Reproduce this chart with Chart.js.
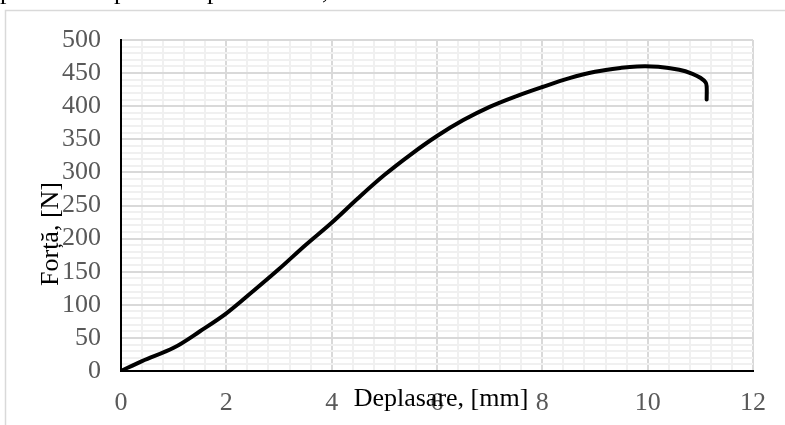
<!DOCTYPE html>
<html><head><meta charset="utf-8">
<script src="https://cdn.jsdelivr.net/npm/chart.js@4/dist/chart.umd.min.js"></script>
<style>html,body{margin:0;padding:0;background:#fff;overflow:hidden}</style>
</head><body>
<canvas id="c" width="785" height="425"></canvas>
<script>
// ---- data ----
const displacement = [0, 0.4, 1.0, 1.5, 2.0, 2.5, 3.0, 3.5, 4.0, 4.5, 5.0, 5.5, 6.0, 6.5, 7.0, 7.5, 8.0, 8.5, 9.0, 9.5, 9.8, 10.2, 10.6, 10.85, 11.0, 11.1, 11.12, 11.12];
const force        = [0, 15, 35, 60, 87, 120, 154, 190, 224, 261, 296, 327, 355, 379, 399, 415, 429, 442, 452, 458, 460, 459.5, 455, 449, 443, 436, 430, 410];
const xTickLabels = [0, 2, 4, 6, 8, 10, 12];
const yTickLabels = [0, 50, 100, 150, 200, 250, 300, 350, 400, 450, 500];
const xMinorStep = 0.4;
const yMinorStep = 10;
const xTitle = 'Deplasare, [mm]';
const yTitle = 'Forță, [N]';
const topTextFragments = ['p', 'p', 'p', ','];

const SERIF = '"Liberation Serif", "Times New Roman", serif';
const near = (a, b) => Math.abs(a - b) < 1e-6;
const isMajorX = v => xTickLabels.some(t => near(t, v));
const isMajorY = v => yTickLabels.some(t => near(t, v));

function minorTicks(min, max, step) {
  const t = [];
  const n = Math.round((max - min) / step);
  for (let i = 0; i <= n; i++) t.push({ value: Math.round((min + i * step) * 1e6) / 1e6 });
  return t;
}

const decor = {
  id: 'decor',
  beforeDraw(chart) {
    const ctx = chart.ctx;
    ctx.save();
    ctx.fillStyle = '#fff';
    ctx.fillRect(0, 0, chart.width, chart.height);
    ctx.strokeStyle = '#d9d9d9';
    ctx.lineWidth = 1.5;
    ctx.strokeRect(5.5, 10.5, 900, 600);
    // cut-off text from the line above
    ctx.fillStyle = '#000';
    ctx.font = '26px ' + SERIF;
    ctx.textBaseline = 'alphabetic';
    const xs = [0, 114, 207, 322];
    topTextFragments.forEach((s, i) => ctx.fillText(s, xs[i], -1));
    ctx.restore();
  },
  afterDraw(chart) {
    const ctx = chart.ctx;
    ctx.save();
    ctx.fillStyle = '#000';
    ctx.font = '26px ' + SERIF;
    ctx.textAlign = 'center';
    ctx.textBaseline = 'alphabetic';
    ctx.fillText(xTitle, 441, 406);
    ctx.translate(58, 234);
    ctx.rotate(-Math.PI / 2);
    ctx.fillText(yTitle, 0, 0);
    ctx.restore();
  }
};

new Chart(document.getElementById('c'), {
  type: 'line',
  data: {
    datasets: [{
      data: displacement.map((x, i) => ({ x, y: force[i] })),
      borderColor: '#000',
      borderWidth: 4,
      pointRadius: 0,
      tension: 0.35,
      fill: false,
      borderJoinStyle: 'round',
      borderCapStyle: 'round'
    }]
  },
  options: {
    responsive: false,
    animation: false,
    devicePixelRatio: 1,
    layout: { padding: { left: 0, top: 40, right: 32, bottom: 0 } },
    plugins: { legend: { display: false }, tooltip: { enabled: false } },
    scales: {
      x: {
        type: 'linear',
        min: xTickLabels[0],
        max: xTickLabels[xTickLabels.length - 1],
        afterBuildTicks: s => { s.ticks = minorTicks(s.min, s.max, xMinorStep); },
        afterFit: s => { s.height = 54; },
        ticks: {
          autoSkip: false,
          maxRotation: 0,
          padding: 17,
          color: '#595959',
          font: { family: SERIF, size: 26 },
          callback: v => isMajorX(v) ? String(Math.round(v)) : ''
        },
        grid: {
          drawTicks: false,
          color: c => isMajorX(c.tick.value) ? '#d9d9d9' : '#f0f0f0',
          lineWidth: 2
        },
        border: { display: true, color: '#000', width: 2 }
      },
      y: {
        type: 'linear',
        min: yTickLabels[0],
        max: yTickLabels[yTickLabels.length - 1],
        afterBuildTicks: s => { s.ticks = minorTicks(s.min, s.max, yMinorStep); },
        afterFit: s => { s.width = 121; },
        ticks: {
          autoSkip: false,
          padding: 20,
          color: '#595959',
          font: { family: SERIF, size: 26 },
          callback: v => isMajorY(v) ? String(Math.round(v)) : ''
        },
        grid: {
          drawTicks: false,
          color: c => isMajorY(c.tick.value) ? '#d9d9d9' : '#f0f0f0',
          lineWidth: 2
        },
        border: { display: true, color: '#000', width: 2 }
      }
    }
  },
  plugins: [decor]
});
</script>
</body></html>
